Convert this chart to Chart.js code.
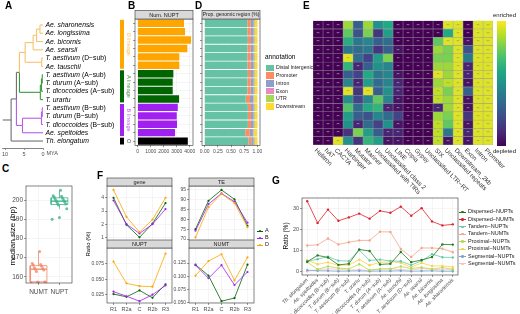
<!DOCTYPE html>
<html>
<head>
<meta charset="utf-8">
<title>NUPT / NUMT overview</title>
<script src="https://cdn.jsdelivr.net/npm/chart.js@4.4.1/dist/chart.umd.min.js"></script>
<style>
  body { margin: 0; background: #fff; }
  #wrap { position: relative; width: 520px; height: 314px; overflow: hidden; background: #fff;
          font-family: "Liberation Sans", Arial, sans-serif; }
  #wrap canvas { position: absolute; }
  .t { position: absolute; white-space: nowrap; line-height: 1; color: #1a1a1a; }
  .tag { font-weight: bold; font-size: 10px; color: #000; }
</style>
</head>
<body>
<div id="wrap">
  <canvas id="cTree"></canvas>
  <canvas id="cB"></canvas>
  <canvas id="cD"></canvas>
  <canvas id="cE"></canvas>
  <canvas id="cC"></canvas>
  <canvas id="cGene"></canvas>
  <canvas id="cTE"></canvas>
  <canvas id="cNUPT"></canvas>
  <canvas id="cNUMT"></canvas>
  <canvas id="cG"></canvas>
</div>
<script>
// ---------- data ----------
const genomes = ["Ae. sharonensis", "Ae. longissima", "Ae. bicornis", "Ae. searsii",
  "T. aestivum (D−sub)", "Ae. tauschii", "T. aestivum (A−sub)", "T. durum (A−sub)",
  "T. dicoccoides (A−sub)", "T. urartu", "T. aestivum (B−sub)", "T. durum (B−sub)",
  "T. dicoccoides (B−sub)", "Ae. speltoides", "Th. elongatum"];

const lineages = ["D lineage", "A lineage", "B lineage", "O"];
const lineageRows = [6, 4, 4, 1];
const lineageColors = ["#FFA500", "#006400", "#A020F0", "#000000"];

// tree: node name, age (MYA), children, clade
const treeNodes = [
  ["d1", 0.8, ["t0", "t1"], "D"],
  ["d2", 1.7, ["d1", "t2"], "D"],
  ["d3", 2.6, ["d2", "t3"], "D"],
  ["d4", 0.35, ["t4", "t5"], "D"],
  ["dR", 4.7, ["d3", "d4"], "D"],
  ["a1", 0.2, ["t6", "t7"], "A"],
  ["a2", 0.4, ["a1", "t8"], "A"],
  ["a3", 0.7, ["a2", "t9"], "A"],
  ["AD", 6.2, ["dR", "a3"], "O"],
  ["b1", 0.2, ["t10", "t11"], "B"],
  ["b2", 0.4, ["b1", "t12"], "B"],
  ["b3", 5.4, ["b2", "t13"], "B"],
  ["ABD", 7.0, ["AD", "b3"], "O"],
  ["root", 8.4, ["ABD", "t14"], "O"]
];
const rootEdge = 10.6;
const myaTicks = [10, 5, 0];

const numNUPT = [3560, 3640, 4100, 3815, 3200, 3200, 2740, 2690, 2690, 3180, 3080, 3000, 3020, 2870, 3850];
const nuptTicks = [0, 1000, 2000, 3000, 4000];

const annotations = ["Distal Intergenic", "Promoter", "Intron", "Exon", "UTR", "Downstream"];
const propDistal   = [0.81, 0.81, 0.82, 0.81, 0.81, 0.81, 0.82, 0.81, 0.81, 0.78, 0.82, 0.82, 0.82, 0.77, 0.83];
const propPromoter = [0.065, 0.065, 0.06, 0.065, 0.065, 0.065, 0.06, 0.065, 0.065, 0.08, 0.06, 0.06, 0.06, 0.085, 0.055];
const propIntron   = [0.055, 0.055, 0.05, 0.055, 0.055, 0.055, 0.05, 0.055, 0.055, 0.06, 0.05, 0.05, 0.05, 0.06, 0.045];
const propExon     = [0.01, 0.01, 0.01, 0.01, 0.01, 0.01, 0.01, 0.01, 0.01, 0.01, 0.01, 0.01, 0.01, 0.01, 0.01];
const propUTR      = [0.015, 0.015, 0.015, 0.015, 0.015, 0.015, 0.015, 0.015, 0.015, 0.015, 0.015, 0.015, 0.015, 0.015, 0.015];
const propDown     = [0.045, 0.045, 0.045, 0.045, 0.045, 0.045, 0.045, 0.045, 0.045, 0.05, 0.045, 0.045, 0.045, 0.055, 0.045];
const propTicks = [0, 0.25, 0.5, 0.75, 1];

const teClasses = ["Helitron", "hAT", "CACTA", "Harbinger", "Mutator", "Mariner",
  "Unclassified with TIRs", "Unclassified class 2", "LINE", "Copia", "Gypsy",
  "Unclassified LTR−RT", "SIX", "Unclassified repeats", "Downstream_2kb", "Exon", "Intron", "Promoter"];
// one row per genome, 0 = depleted, 1 = enriched
const teEnrich = [
  [0, 0, 0, .85, .30, .85, .50, .60, 0, 0, 0, 0, 0, .95, .95, 0, .95, .95],
  [0, 0, 0, .75, .25, .80, .15, .55, 0, 0, 0, 0, 0, .60, .95, 0, .95, .95],
  [0, 0, 0, .62, .40, .45, .30, .35, 0, 0, 0, 0, .75, .95, .95, .05, .95, .95],
  [0, 0, 0, .40, .35, .40, .15, .30, .05, 0, 0, 0, .85, .80, .95, .25, .95, .95],
  [0, 0, 0, .95, .35, .20, .55, .80, 0, 0, 0, 0, .80, .80, .95, .40, .95, .95],
  [0, 0, 0, .65, .10, .30, .50, .45, 0, 0, 0, 0, .85, .85, .95, .10, .95, .95],
  [0, 0, 0, .30, .20, .60, .40, .45, .05, 0, 0, 0, .95, .85, .95, .10, .95, .95],
  [0, 0, 0, .45, .10, .55, .35, .45, .10, 0, 0, 0, .85, .90, .95, .05, .95, .95],
  [0, 0, 0, .95, .15, .95, .30, .50, .10, 0, 0, 0, .90, .80, .95, .30, .95, .95],
  [0, 0, 0, .50, .20, .45, .75, .45, .05, 0, 0, 0, .90, .85, .95, .05, .95, .95],
  [0, 0, 0, .72, .35, .60, .65, .10, .05, 0, 0, 0, .10, .85, .95, .05, .95, .95],
  [0, 0, 0, .55, .30, .25, .45, .35, .20, 0, 0, 0, .85, .80, .95, .15, .95, .95],
  [0, 0, 0, .50, .10, .35, .20, .50, .05, 0, 0, 0, .90, .75, .95, .05, .95, .95],
  [0, 0, 0, .15, .80, .55, .30, .10, .10, 0, 0, 0, .90, .40, .95, .10, .95, .95],
  [0, 0, .95, .50, .15, .65, .55, .05, .05, 0, 0, 0, .90, .05, .95, .05, .95, .95]
];

const sizeGroups = ["NUMT", "NUPT"];
const numtSize = [156.9, 157.0, 157.1, 157.3, 157.5, 162.8, 163.6, 164.0, 164.4, 164.8, 165.5, 166.2, 166.5, 167.0, 173.2];
const nuptSize = [190.0, 191.0, 195.5, 197.5, 198.0, 198.5, 199.0, 199.5, 200.0, 200.5, 201.0, 201.5, 202.0, 202.3, 205.2];
const sizeTicks = [160, 170, 180, 190, 200];

const regions = ["R1", "R2a", "C", "R2b", "R3"];
const subgenomes = ["A", "B", "D"];
const geneA = [4.0, 1.95, 1.0, 2.05, 3.6];
const geneB = [3.8, 2.0, 1.3, 2.0, 3.15];
const geneD = [4.6, 2.55, 1.4, 2.35, 4.0];
const teA = [75.0, 89.5, 95.0, 90.2, 76.7];
const teB = [74.2, 87.8, 93.2, 89.0, 78.3];
const teD = [70.8, 86.2, 93.0, 88.3, 76.0];
const nuptA = [0.026, 0.0215, 0.032, 0.020, 0.042];
const nuptB = [0.030, 0.0225, 0.0145, 0.025, 0.040];
const nuptD = [0.0787, 0.0435, 0.039, 0.038, 0.092];
const numtA = [0.122, 0.101, 0.052, 0.058, 0.122];
const numtB = [0.121, 0.096, 0.121, 0.083, 0.108];
const numtD = [0.101, 0.129, 0.142, 0.092, 0.136];
const geneTicks = [1, 2, 3, 4];
const teTicks = [70, 75, 80, 85, 90, 95];
const nuptRatioTicks = [0.025, 0.05, 0.075];
const numtRatioTicks = [0.05, 0.075, 0.1, 0.125];

const gSeries = ["Dispersed−NUPTs", "Dispersed−NUMTs", "Tandem−NUPTs", "Tandem−NUMTs",
  "Proximal−NUPTs", "Proximal−NUMTs", "Segmental−NUPTs", "Segmental−NUMTs"];
const dispersedNUPT = [4.8, 7.8, 6.8, 3.3, 3.8, 10.6, 9.9, 3.5, 3.8, 9.4, 4.6, 5.6, 7.0, 13.0, 12.9];
const dispersedNUMT = [33.5, 23.2, 29.5, 24.2, 25.8, 27.6, 25.2, 28.9, 28.0, 30.9, 26.6, 30.2, 23.9, 22.0, 22.5];
const tandemNUPT    = [5.0, 6.0, 7.2, 5.3, 5.1, 10.3, 5.4, 5.8, 5.2, 5.0, 3.2, 5.2, 8.4, 6.9, 6.8];
const tandemNUMT    = [12.5, 12.8, 15.8, 13.0, 14.0, 14.9, 14.9, 19.0, 18.9, 10.8, 7.0, 11.3, 11.3, 11.0, 9.3];
const proximalNUPT  = [4.6, 1.2, 2.6, 1.8, 1.4, 3.6, 0.8, 1.4, 1.4, 2.5, 1.6, 2.1, 1.3, 2.0, 1.2];
const proximalNUMT  = [5.5, 3.6, 4.5, 3.1, 3.2, 5.8, 3.1, 4.5, 4.8, 4.3, 2.2, 4.2, 2.8, 2.8, 2.3];
const segmentalNUPT = [0.8, 0.5, 0.5, 0.3, 0.4, 0.5, 0.3, 0.4, 0.4, 0.5, 0.3, 0.4, 0.5, 0.3, 0.3];
const segmentalNUMT = [0.3, 1.0, 1.5, 1.2, 0.8, 1.0, 0.6, 1.3, 1.4, 1.0, 0.9, 1.5, 1.2, 1.0, 0.9];
const gTicks = [0, 10, 20, 30];

// ---------- styling ----------
const FONT = '"Liberation Sans", Arial, sans-serif';
Chart.defaults.font.family = FONT;
Chart.defaults.color = '#4d4d4d';
Chart.defaults.animation = false;
Chart.defaults.events = [];
Chart.defaults.plugins.legend.display = false;
Chart.defaults.plugins.tooltip.enabled = false;

const treeColors = {D: '#f6c36b', A: '#3b9a3b', B: '#b45ee8', O: '#707070'};
const annotColors = ['#66c2a5', '#fc8d62', '#8da0cb', '#e78ac3', '#a6d854', '#ffd92f'];
const sizeColors = ['#f28868', '#3cb48c'];
const subColors = ['#006400', '#A020F0', '#FFA500'];
const gColors = ['#1e7b1e', '#e0202a', '#66c9a8', '#f4a58a', '#b3d94f', '#f7d34a', '#7aa6d0', '#f5c2c0'];
const VIR = ['#440154', '#482475', '#414487', '#355f8d', '#2a788e', '#21918c', '#22a884', '#44bf70', '#7ad151', '#bddf26', '#fde725'];

function hexRgb(h) { return [1, 3, 5].map(i => parseInt(h.substr(i, 2), 16)); }
function viridis(t) {
  t = Math.max(0, Math.min(1, t));
  const f = t * 10, i = Math.min(9, Math.floor(f)), u = f - i;
  const a = hexRgb(VIR[i]), b = hexRgb(VIR[i + 1]);
  return 'rgb(' + a.map((v, k) => Math.round(v + (b[k] - v) * u)).join(',') + ')';
}

// canvas rect c and plot rect p, both [left, top, width, height] in page pixels
function setup(id, c, p) {
  const el = document.getElementById(id);
  el.style.left = c[0] + 'px'; el.style.top = c[1] + 'px';
  el.width = c[2]; el.height = c[3];
  el.style.width = c[2] + 'px'; el.style.height = c[3] + 'px';
  return {
    el: el,
    pad: {left: 0, top: p[1] - c[1], right: c[0] + c[2] - p[0] - p[2], bottom: 0},
    yw: p[0] - c[0],
    xh: c[1] + c[3] - p[1] - p[3]
  };
}

function axis(size, o) {
  const base = {
    afterFit(s) {
      if (s.isHorizontal()) s.height = size; else s.width = size;
      s.paddingLeft = s.paddingRight = s.paddingTop = s.paddingBottom = 0;
    },
    grid: {color: '#ebebeb', lineWidth: 0.5, tickLength: 2, tickColor: '#333', tickWidth: 0.5},
    border: {display: false},
    ticks: {color: '#4d4d4d', font: {size: 5.5}, padding: 1, autoSkip: false, maxRotation: 0}
  };
  for (const k in o) {
    if (base[k] && typeof base[k] === 'object' && typeof o[k] === 'object') base[k] = Object.assign({}, base[k], o[k]);
    else base[k] = o[k];
  }
  return base;
}
const fixTicks = vals => s => { s.ticks = vals.map(v => ({value: v})); };

function frame(strip, h, size) {
  return {
    id: 'frame',
    afterDraw(chart) {
      const a = chart.chartArea, ctx = chart.ctx;
      ctx.save();
      ctx.strokeStyle = '#333';
      ctx.lineWidth = 0.6;
      ctx.strokeRect(a.left, a.top, a.right - a.left, a.bottom - a.top);
      if (strip) {
        h = h || 8;
        ctx.fillStyle = '#d9d9d9';
        ctx.fillRect(a.left, a.top - h, a.right - a.left, h);
        ctx.strokeRect(a.left, a.top - h, a.right - a.left, h);
        ctx.fillStyle = '#1a1a1a';
        ctx.font = (size || 5.5) + 'px ' + FONT;
        ctx.textAlign = 'center';
        ctx.textBaseline = 'middle';
        ctx.fillText(strip, (a.left + a.right) / 2, a.top - h / 2 + 0.3);
      }
      ctx.restore();
    }
  };
}

function baseOpts(L, extra) {
  return Object.assign({
    responsive: false, devicePixelRatio: 1,
    layout: {padding: L.pad, autoPadding: false}
  }, extra);
}

// ---------- A: tree ----------
const tipKeys = [];
lineageRows.forEach((n, k) => { for (let i = 0; i < n; i++) tipKeys.push("DABO"[k]); });
const age = {}, ypos = {}, clade = {};
genomes.forEach((g, i) => { age['t' + i] = 0; ypos['t' + i] = i; clade['t' + i] = tipKeys[i]; });
const segs = [];
treeNodes.forEach(([name, a, kids, key]) => {
  age[name] = a; clade[name] = key;
  const ys = kids.map(k => ypos[k]);
  ypos[name] = (Math.min(...ys) + Math.max(...ys)) / 2;
  kids.forEach(k => {
    segs.push({pts: [{x: a, y: ypos[k]}, {x: age[k], y: ypos[k]}], key: clade[k]});
    segs.push({pts: [{x: a, y: ypos[name]}, {x: a, y: ypos[k]}], key: clade[k]});
  });
});
segs.push({pts: [{x: rootEdge, y: ypos.root}, {x: age.root, y: ypos.root}], key: 'O'});

const tipLabels = {
  id: 'tipLabels',
  afterDraw(chart) {
    const {ctx} = chart, x = chart.scales.x, y = chart.scales.y;
    ctx.save();
    ctx.textBaseline = 'middle';
    ctx.fillStyle = '#000';
    genomes.forEach((g, i) => {
      const m = g.match(/^(.*?)( \(.*\))?$/);
      let px = x.getPixelForValue(0) + 2.5;
      const py = y.getPixelForValue(i) + 0.3;
      ctx.font = 'italic 6.8px ' + FONT;
      ctx.fillText(m[1], px, py);
      if (m[2]) {
        px += ctx.measureText(m[1]).width;
        ctx.font = '6.8px ' + FONT;
        ctx.fillText(m[2], px, py);
      }
    });
    ctx.fillStyle = '#4d4d4d';
    ctx.font = '5.5px ' + FONT;
    ctx.textBaseline = 'top';
    ctx.fillText('MYA', x.getPixelForValue(0) + 3.5, chart.chartArea.bottom + 3);
    ctx.restore();
  }
};

const T = setup('cTree', [0, 0, 125, 160], [2, 21, 41, 127]);
new Chart(T.el, {
  type: 'scatter',
  data: {datasets: segs.map(s => ({data: s.pts, showLine: true, borderColor: treeColors[s.key], borderWidth: 1.1, pointRadius: 0}))},
  options: baseOpts(T, {
    scales: {
      x: axis(T.xh, {reverse: true, min: 0, max: 10.8, afterBuildTicks: fixTicks(myaTicks),
        grid: {drawOnChartArea: false}, border: {display: true, color: '#333', width: 0.6},
        ticks: {callback: v => String(v)}}),
      y: axis(T.yw, {reverse: true, min: -0.48, max: 14.84, grid: {display: false}, ticks: {display: false}})
    }
  }),
  plugins: [tipLabels]
});

// ---------- B: number of NUPTs ----------
const rowColors = [];
lineageRows.forEach((n, k) => { for (let i = 0; i < n; i++) rowColors.push(lineageColors[k]); });

const lineagePlugin = {
  id: 'lineage',
  afterDraw(chart) {
    const {ctx} = chart, y = chart.scales.y;
    const band = y.getPixelForValue(1) - y.getPixelForValue(0);
    let start = 0;
    ctx.save();
    lineages.forEach((name, k) => {
      const end = start + lineageRows[k] - 1;
      const top = y.getPixelForValue(start) - band / 2 + 0.8;
      const bot = y.getPixelForValue(end) + band / 2 - 0.8;
      ctx.fillStyle = lineageColors[k];
      ctx.fillRect(4, top, 4, bot - top);
      ctx.save();
      ctx.translate(12.5, (top + bot) / 2);
      ctx.rotate(Math.PI / 2);
      ctx.globalAlpha = 0.7;
      ctx.font = '5.5px ' + FONT;
      ctx.textAlign = 'center';
      ctx.textBaseline = 'middle';
      ctx.fillText(name, 0, 0);
      ctx.restore();
      start = end + 1;
    });
    ctx.restore();
  }
};

const Bp = setup('cB', [116, 0, 80, 160], [135, 19, 58, 126.3]);
new Chart(Bp.el, {
  type: 'bar',
  data: {labels: genomes, datasets: [{data: numNUPT, backgroundColor: rowColors, barPercentage: 0.88, categoryPercentage: 1}]},
  options: baseOpts(Bp, {
    indexAxis: 'y',
    scales: {
      x: axis(Bp.xh, {min: -210, max: 4250, afterBuildTicks: fixTicks(nuptTicks), ticks: {font: {size: 5}, callback: v => String(v)}}),
      y: axis(Bp.yw, {grid: {offset: false}, ticks: {display: false}})
    }
  }),
  plugins: [frame('Num. NUPT', 8.5, 5.5), lineagePlugin]
});

// ---------- D: genomic region proportions ----------
const propSeries = [propDistal, propPromoter, propIntron, propExon, propUTR, propDown];
const Dp = setup('cD', [196, 0, 66, 160], [202, 19, 58, 126.3]);
new Chart(Dp.el, {
  type: 'bar',
  data: {labels: genomes, datasets: propSeries.map((d, k) => ({label: annotations[k], data: d, backgroundColor: annotColors[k], barPercentage: 0.9, categoryPercentage: 1}))},
  options: baseOpts(Dp, {
    indexAxis: 'y',
    scales: {
      x: axis(Dp.xh, {stacked: true, min: -0.05, max: 1.05, afterBuildTicks: fixTicks(propTicks), ticks: {font: {size: 5}, callback: v => v.toFixed(2)}}),
      y: axis(Dp.yw, {stacked: true, grid: {offset: false}, ticks: {display: false}})
    }
  }),
  plugins: [frame('Prop. genomic region (%)', 8.5, 5)]
});

// ---------- E: enrichment heatmap ----------
const heatText = {
  id: 'heatText',
  afterDraw(chart) {
    const {ctx} = chart, a = chart.chartArea, x = chart.scales.x, y = chart.scales.y;
    ctx.save();
    ctx.textAlign = 'center';
    ctx.textBaseline = 'middle';
    ctx.font = '4px ' + FONT;
    teEnrich.forEach((row, i) => row.forEach((v, j) => {
      if (v > 0.12 && v < 0.9) return;
      ctx.fillStyle = v < 0.5 ? '#c8c8c8' : '#8a8a6a';
      ctx.fillText('**', x.getPixelForValue(j + 0.5), y.getPixelForValue(i) + 0.8);
    }));
    ctx.textAlign = 'left';
    ctx.fillStyle = '#333';
    ctx.font = '6.3px ' + FONT;
    teClasses.forEach((t, j) => {
      ctx.save();
      ctx.translate(x.getPixelForValue(j + 0.5) - 2.5, a.bottom + 4.5);
      ctx.rotate(Math.PI / 4);
      ctx.fillText(t, 0, 0);
      ctx.restore();
    });
    ctx.restore();
  }
};
const Ep = setup('cE', [305, 0, 215, 200], [313, 20.7, 180, 124.3]);
new Chart(Ep.el, {
  type: 'bar',
  data: {
    labels: genomes,
    datasets: teClasses.map((name, j) => ({
      label: name,
      data: genomes.map(() => 1),
      backgroundColor: teEnrich.map(row => viridis(row[j])),
      borderColor: '#9a9a9a', borderWidth: 0.5, borderSkipped: false,
      barPercentage: 1, categoryPercentage: 1
    }))
  },
  options: baseOpts(Ep, {
    indexAxis: 'y',
    scales: {
      x: axis(Ep.xh, {stacked: true, min: 0, max: teClasses.length, grid: {display: false}, ticks: {display: false}}),
      y: axis(Ep.yw, {stacked: true, grid: {display: false}, ticks: {display: false}})
    }
  }),
  plugins: [heatText]
});

// ---------- C: median size boxplot ----------
function boxStats(v) {
  const s = v.slice().sort((a, b) => a - b);
  const q = p => { const h = (s.length - 1) * p, lo = Math.floor(h); return s[lo] + (h - lo) * ((s[lo + 1] ?? s[lo]) - s[lo]); };
  const q1 = q(0.25), med = q(0.5), q3 = q(0.75), iqr = q3 - q1;
  return {q1, med, q3, lo: s.find(x => x >= q1 - 1.5 * iqr), hi: s.slice().reverse().find(x => x <= q3 + 1.5 * iqr)};
}
const jit = i => (((i * 7) % 15) / 14 - 0.5) * 0.7;
const boxSets = [];
[numtSize, nuptSize].forEach((vals, g) => {
  const k = g + 1, st = boxStats(vals), col = sizeColors[g], w = 0.4;
  const line = (pts, bw) => ({data: pts, showLine: true, borderColor: col, borderWidth: bw || 0.8, pointRadius: 0});
  boxSets.push(line([{x: k - w, y: st.q1}, {x: k + w, y: st.q1}, {x: k + w, y: st.q3}, {x: k - w, y: st.q3}, {x: k - w, y: st.q1}]));
  boxSets.push(line([{x: k - w, y: st.med}, {x: k + w, y: st.med}], 1.3));
  boxSets.push(line([{x: k, y: st.q3}, {x: k, y: st.hi}]));
  boxSets.push(line([{x: k, y: st.lo}, {x: k, y: st.q1}]));
  boxSets.push({data: vals.map((v, i) => ({x: k + jit(i), y: v})), pointRadius: 1.5, pointBorderWidth: 0,
    backgroundColor: col + 'cc', showLine: false});
});
const Cp = setup('cC', [0, 178, 74, 124], [26, 186, 46, 97]);
new Chart(Cp.el, {
  type: 'scatter',
  data: {datasets: boxSets},
  options: baseOpts(Cp, {
    scales: {
      x: axis(Cp.xh, {min: 0.4, max: 2.6, afterBuildTicks: fixTicks([1, 2]), ticks: {font: {size: 6.5}, padding: 3, callback: v => sizeGroups[v - 1]}}),
      y: axis(Cp.yw, {min: 156.8, max: 207.4, afterBuildTicks: fixTicks(sizeTicks), ticks: {font: {size: 6.5}, callback: v => String(v)}})
    }
  }),
  plugins: [frame()]
});

// ---------- F: ratio along chromosome regions ----------
function facet(id, c, p, strip, vals, yMin, yMax, yTicks, digits, showX) {
  const L = setup(id, c, p);
  new Chart(L.el, {
    type: 'line',
    data: {
      labels: regions,
      datasets: [2, 1, 0].map(k => ({data: vals[k], borderColor: subColors[k], backgroundColor: subColors[k],
        borderWidth: 0.8, pointRadius: 1.1, pointBorderWidth: 0}))
    },
    options: baseOpts(L, {
      scales: {
        x: axis(L.xh, {offset: true, grid: {drawTicks: showX}, ticks: {display: showX, font: {size: 5.5}}}),
        y: axis(L.yw, {min: yMin, max: yMax, afterBuildTicks: fixTicks(yTicks), ticks: {font: {size: 5}, callback: v => v.toFixed(digits)}})
      }
    }),
    plugins: [frame(strip, 8, 5.5)]
  });
}
facet('cGene', [90, 176, 84, 64], [107, 186, 65, 54], 'gene', [geneA, geneB, geneD], 0.8, 4.9, geneTicks, 0, false);
facet('cTE', [172, 176, 84, 64], [189, 186, 65, 54], 'TE', [teA, teB, teD], 69.5, 97, teTicks, 0, false);
facet('cNUPT', [86, 240, 88, 74], [107, 248, 65, 55], 'NUPT', [nuptA, nuptB, nuptD], 0.0115, 0.101, nuptRatioTicks, 3, true);
facet('cNUMT', [168, 240, 88, 74], [189, 248, 65, 55], 'NUMT', [numtA, numtB, numtD], 0.0485, 0.154, numtRatioTicks, 3, true);

// ---------- G: duplication type ratios ----------
const gValues = [dispersedNUPT, dispersedNUMT, tandemNUPT, tandemNUMT, proximalNUPT, proximalNUMT, segmentalNUPT, segmentalNUMT];
const Gp = setup('cG', [270, 190, 190, 124], [302, 198, 156, 77]);
new Chart(Gp.el, {
  type: 'line',
  data: {
    labels: genomes.slice().reverse(),
    datasets: gValues.map((d, k) => ({label: gSeries[k], data: d, borderColor: gColors[k], backgroundColor: gColors[k],
      borderWidth: 0.8, pointRadius: 1.2, pointBorderWidth: 0}))
  },
  options: baseOpts(Gp, {
    scales: {
      x: axis(Gp.xh, {offset: true, ticks: {font: {size: 5.3, style: 'italic'}, minRotation: 45, maxRotation: 45, padding: 0}}),
      y: axis(Gp.yw, {min: -1.5, max: 35, afterBuildTicks: fixTicks(gTicks), ticks: {font: {size: 5.5}, callback: v => String(v)}})
    }
  }),
  plugins: [frame()]
});

// ---------- text, legends ----------
const wrap = document.getElementById('wrap');
function label(text, x, y, css) {
  const d = document.createElement('div');
  d.className = 't';
  d.textContent = text;
  d.style.left = x + 'px';
  d.style.top = y + 'px';
  Object.assign(d.style, css || {});
  wrap.appendChild(d);
  return d;
}
function vlabel(text, cx, cy, size) {
  label(text, cx, cy, {fontSize: size + 'px', color: '#000', transform: 'translate(-50%,-50%) rotate(-90deg)'});
}
function key(x, cy, color, w) {
  label('', x, cy - 0.4, {width: w + 'px', height: '0.8px', background: color});
  label('', x + w / 2 - 1.2, cy - 1.2, {width: '2.4px', height: '2.4px', borderRadius: '50%', background: color});
}

[['A', 5, 1], ['B', 128, 1], ['D', 195, 1], ['E', 303, 1], ['C', 2, 164], ['F', 97, 171], ['G', 272, 176]]
  .forEach(([s, x, y]) => label(s, x, y).className = 't tag');

vlabel('median size (bp)', 12.5, 236, 8);
vlabel('Ratio (%)', 88, 244, 6);
vlabel('Ratio (%)', 286, 236, 6.5);

label('annotation', 265, 54, {fontSize: '6.5px', color: '#000'});
annotations.forEach((a, i) => {
  const cy = 68 + i * 7.7;
  label('', 266, cy - 3.4, {width: '8px', height: '6.8px', background: annotColors[i]});
  label(a, 276, cy - 2.6, {fontSize: '5.2px'});
});

label('enriched', 493, 12, {fontSize: '6px'});
label('depleted', 493, 148, {fontSize: '6px'});
label('', 497, 21, {width: '9px', height: '125px', background: 'linear-gradient(to top,' + VIR.join(',') + ')'});

subgenomes.forEach((s, i) => {
  const cy = 231 + i * 7;
  key(257, cy, subColors[i], 6);
  label(s, 265, cy - 2.75, {fontSize: '5.5px'});
});

gSeries.forEach((s, i) => {
  const cy = 212 + i * 7.4;
  key(459, cy, gColors[i], 7);
  label(s, 468, cy - 2.75, {fontSize: '5.5px'});
});
</script>
</body>
</html>
